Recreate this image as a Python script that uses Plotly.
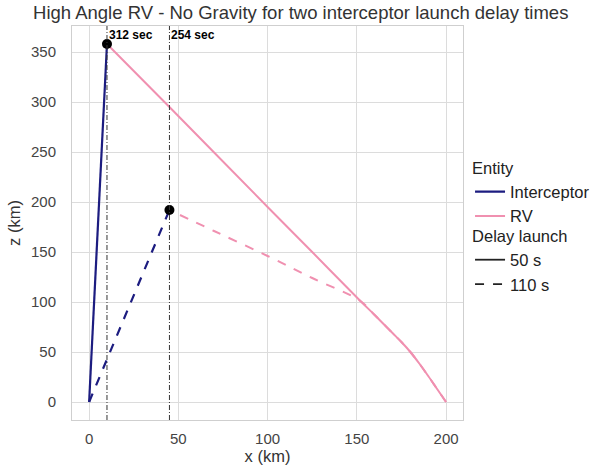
import plotly.graph_objects as go

# ---- data ----
interceptor_50_x = [0, 10]
interceptor_50_z = [0, 358]
interceptor_110_x = [0, 45]
interceptor_110_z = [0, 192]

rv_50_x = [200, 195, 190, 185, 180, 175, 170, 160, 152, 125, 100, 45, 10]
rv_50_z = [0, 13, 26, 38.5, 50, 60, 69, 87, 101, 150, 195, 295, 358]
rv_110_x = [200, 195, 190, 185, 180, 175, 170, 160, 152, 125, 100, 70, 45]
rv_110_z = [0, 13, 26, 38.5, 50, 60, 69, 87, 101, 124, 146, 171, 192]

intercept_x = [10, 45]
intercept_z = [358, 192]
intercept_labels = ["312 sec", "254 sec"]

x_ticks = [0, 50, 100, 150, 200]
y_ticks = [0, 50, 100, 150, 200, 250, 300, 350]

NAVY = "#1c1c80"
PINK = "#f090b0"
FONT = "Liberation Sans, Arial, sans-serif"

fig = go.Figure()

# trajectories
fig.add_trace(go.Scatter(x=interceptor_50_x, y=interceptor_50_z, mode="lines",
                         line=dict(color=NAVY, width=2.2), showlegend=False))
fig.add_trace(go.Scatter(x=interceptor_110_x, y=interceptor_110_z, mode="lines",
                         line=dict(color=NAVY, width=2.2, dash="dash"), showlegend=False))
fig.add_trace(go.Scatter(x=rv_50_x, y=rv_50_z, mode="lines", line_shape="spline",
                         line=dict(color=PINK, width=2, smoothing=1), showlegend=False))
fig.add_trace(go.Scatter(x=rv_110_x, y=rv_110_z, mode="lines", line_shape="spline",
                         line=dict(color=PINK, width=2, dash="dash", smoothing=1), showlegend=False))

# intercept markers
fig.add_trace(go.Scatter(x=intercept_x, y=intercept_z, mode="markers",
                         marker=dict(color="black", size=10), showlegend=False))

# vertical dash-dot lines + labels
for xv, lab in zip(intercept_x, intercept_labels):
    fig.add_vline(x=xv, line=dict(color="#333", width=1, dash="5px,2px,1px,2px"))
    fig.add_annotation(x=xv, y=1, xref="x", yref="paper", text="<b>%s</b>" % lab,
                       showarrow=False, xanchor="left", yanchor="top", xshift=0, yshift=0,
                       font=dict(family=FONT, size=12, color="black"))

# legend entries
fig.add_trace(go.Scatter(x=[None], y=[None], mode="lines", name="Interceptor",
                         line=dict(color=NAVY, width=2.2), legend="legend"))
fig.add_trace(go.Scatter(x=[None], y=[None], mode="lines", name="RV",
                         line=dict(color=PINK, width=2), legend="legend"))
fig.add_trace(go.Scatter(x=[None], y=[None], mode="lines", name="50 s",
                         line=dict(color="#222", width=1.8), legend="legend2"))
fig.add_trace(go.Scatter(x=[None], y=[None], mode="lines", name="110 s",
                         line=dict(color="#222", width=1.8, dash="dash"), legend="legend2"))

legend_common = dict(font=dict(family=FONT, size=16.5, color="#222"),
                     bgcolor="rgba(0,0,0,0)", xanchor="left", yanchor="top",
                     tracegroupgap=0, itemwidth=30)

fig.update_layout(
    width=594, height=472,
    margin=dict(l=72, r=131, t=26, b=52, autoexpand=False),
    paper_bgcolor="white", plot_bgcolor="white",
    title=dict(text="High Angle RV - No Gravity for two interceptor launch delay times",
               x=0.0556, xanchor="left", y=0.9725, yanchor="middle",
               font=dict(family=FONT, size=18.5, color="#333")),
    xaxis=dict(range=[-9.6, 209.5], tickvals=x_ticks, showgrid=True, gridcolor="#dcdcdc",
               zeroline=False, showline=True, linecolor="#cfcfcf", mirror=True,
               ticks="outside", ticklen=5, tickcolor="rgba(0,0,0,0)", automargin=False,
               tickfont=dict(family=FONT, size=15, color="#444"),
               title=dict(text="x (km)", font=dict(family=FONT, size=16.5, color="#333"), standoff=2)),
    yaxis=dict(range=[-18, 376], tickvals=y_ticks, showgrid=True, gridcolor="#dcdcdc",
               zeroline=False, showline=True, linecolor="#cfcfcf", mirror=True,
               ticks="outside", ticklen=12, tickcolor="rgba(0,0,0,0)", automargin=False,
               tickfont=dict(family=FONT, size=15, color="#444"),
               title=dict(text="z (km)", font=dict(family=FONT, size=16.5, color="#333"), standoff=6)),
    legend=dict(title=dict(text="Entity", font=dict(family=FONT, size=16.5, color="#222")),
                x=1.018, y=0.678, **legend_common),
    legend2=dict(title=dict(text="Delay launch", font=dict(family=FONT, size=16.5, color="#222")),
                 x=1.018, y=0.505, **legend_common),
)

fig.write_html("out.html", config={"displayModeBar": False},
               post_script="document.body.style.margin='0';")
